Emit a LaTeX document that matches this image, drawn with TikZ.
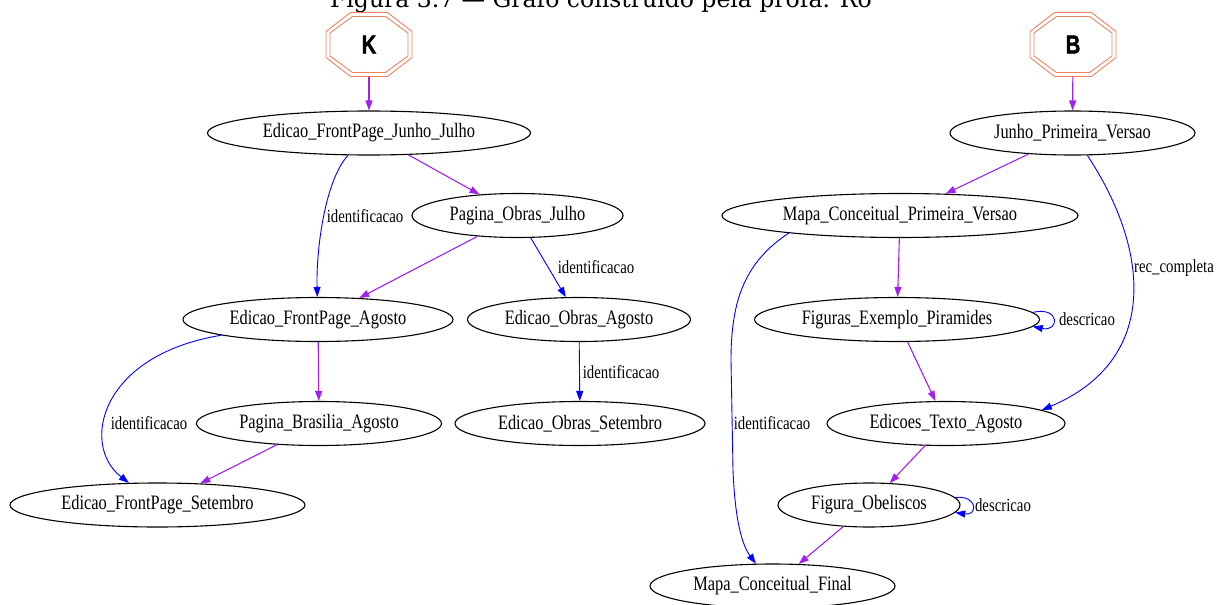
\documentclass[tikz,border=0pt]{standalone}
\usepackage{fontspec}
\usetikzlibrary{shapes.geometric,arrows.meta}
\newfontfamily\gvfont[FakeStretch=0.8]{Liberation Serif}
\newfontfamily\rootfont[FakeStretch=0.78,FakeBold=1.6]{Liberation Sans Bold}
\newfontfamily\capfont{DejaVu Serif}
\definecolor{edgepurple}{HTML}{A020F0}
\definecolor{edgeblue}{HTML}{0000FF}
\definecolor{octsalmon}{HTML}{EE8262}
\begin{document}
\begin{tikzpicture}[x=1pt,y=-1pt,
  state/.style={ellipse, draw=black, line width=1.1pt, inner sep=0pt,
    minimum height=44pt, font=\gvfont\fontsize{20.5}{23}\selectfont},
  root/.style={rectangle, inner sep=0pt, minimum width=86pt, minimum height=64pt,
    font=\rootfont\fontsize{26}{28}\selectfont},
  octline/.style={draw=octsalmon, line width=0.9pt, line join=miter},
  lbl/.style={inner sep=0pt, font=\gvfont\fontsize{18.5}{21}\selectfont},
  pedge/.style={draw=edgepurple, line width=1.1pt, -{Triangle[length=10pt,width=7pt]}},
  bedge/.style={draw=edgeblue, line width=0.9pt, -{Triangle[length=10pt,width=7pt]}}]
\useasboundingbox (0,0) rectangle (1216,605);
\clip (0,0) rectangle (1216,605);

% caption line running off the top edge
\node[anchor=base, inner sep=0pt, font=\capfont\fontsize{23.5}{26}\selectfont] (cap) at (601,8)
  {Figura 3.7 — Grafo construído pela profa. Ro};

% roots
\node[root] (K) at (369,44.5) {K};
\node[root] (B) at (1073,44.5) {B};
\foreach \n in {K,B} {
  \begin{scope}[shift={(\n.center)}]
    \draw[octline] (-18.5,-32) -- (18.5,-32) -- (43,-13) -- (43,13) -- (18.5,32)
      -- (-18.5,32) -- (-43,13) -- (-43,-13) -- cycle;
    \draw[octline] (-16.5,-28) -- (16.5,-28) -- (39,-11.5) -- (39,11.5) -- (16.5,28)
      -- (-16.5,28) -- (-39,11.5) -- (-39,-11.5) -- cycle;
  \end{scope}
}

% left tree
\node[state, minimum width=323pt] (EFJJ) at (369,133) {Edicao\_FrontPage\_Junho\_Julho};
\node[state, minimum width=211pt] (POJ) at (517.5,215.5) {Pagina\_Obras\_Julho};
\node[state, minimum width=270pt] (EFA) at (318,319.5) {Edicao\_FrontPage\_Agosto};
\node[state, minimum width=223pt] (EOA) at (579,319.5) {Edicao\_Obras\_Agosto};
\node[state, minimum width=245pt] (PBA) at (319,423.5) {Pagina\_Brasilia\_Agosto};
\node[state, minimum width=250pt] (EOS) at (580,423.5) {Edicao\_Obras\_Setembro};
\node[state, minimum width=295pt] (EFS) at (157.5,505) {Edicao\_FrontPage\_Setembro};

% right tree
\node[state, minimum width=245pt] (JPV) at (1072.5,133) {Junho\_Primeira\_Versao};
\node[state, minimum width=356pt] (MCPV) at (900,215.5) {Mapa\_Conceitual\_Primeira\_Versao};
\node[state, minimum width=285pt] (FEP) at (897,319.5) {Figuras\_Exemplo\_Piramides};
\node[state, minimum width=238pt] (ETA) at (946,423.5) {Edicoes\_Texto\_Agosto};
\node[state, minimum width=182pt] (FO) at (869,505) {Figura\_Obeliscos};
\node[state, minimum width=245pt] (MCF) at (772.5,586) {Mapa\_Conceitual\_Final};

% edge labels
\node[lbl] (L1) at (365,216) {identificacao};
\node[lbl] (L2) at (596,267) {identificacao};
\node[lbl] (L3) at (149,423) {identificacao};
\node[lbl] (L4) at (621,372) {identificacao};
\node[lbl] (L5) at (1174,268) {rec\_completa};
\node[lbl] (L6) at (772,423) {identificacao};
\node[lbl] (L7) at (1087,319) {descricao};
\node[lbl] (L8) at (1003,505) {descricao};

% edges, left
\draw[pedge] (K) -- (EFJJ);
\draw[pedge] (EFJJ) -- (POJ);
\draw[bedge] (EFJJ) .. controls (325,180) and (316,250) .. (EFA);
\draw[pedge] (POJ) -- (EFA);
\draw[bedge] (POJ) -- (EOA);
\draw[pedge] (EFA) -- (PBA);
\draw[bedge] (EFA) .. controls (100,355) and (80,445) .. (EFS);
\draw[bedge] (EOA) -- (EOS);
\draw[pedge] (PBA) -- (EFS);

% edges, right
\draw[pedge] (B) -- (JPV);
\draw[pedge] (JPV) -- (MCPV);
\draw[bedge] (JPV) .. controls (1150,250) and (1160,360) .. (ETA.8);
\draw[pedge] (MCPV) -- (FEP);
\draw[bedge] (MCPV.189.5) .. controls (745,262) and (731,300) .. (731,360)
  -- (733,470) .. controls (735,520) and (742,545) .. (MCF);
\draw[bedge] (FEP.3) .. controls (1060,306) and (1060,332) .. (FEP.-3);
\draw[pedge] (FEP) -- (ETA);
\draw[pedge] (ETA) -- (FO);
\draw[bedge] (FO.5) .. controls (978,495) and (978,516) .. (FO.-5);
\draw[pedge] (FO) -- (MCF);
\end{tikzpicture}
\end{document}
